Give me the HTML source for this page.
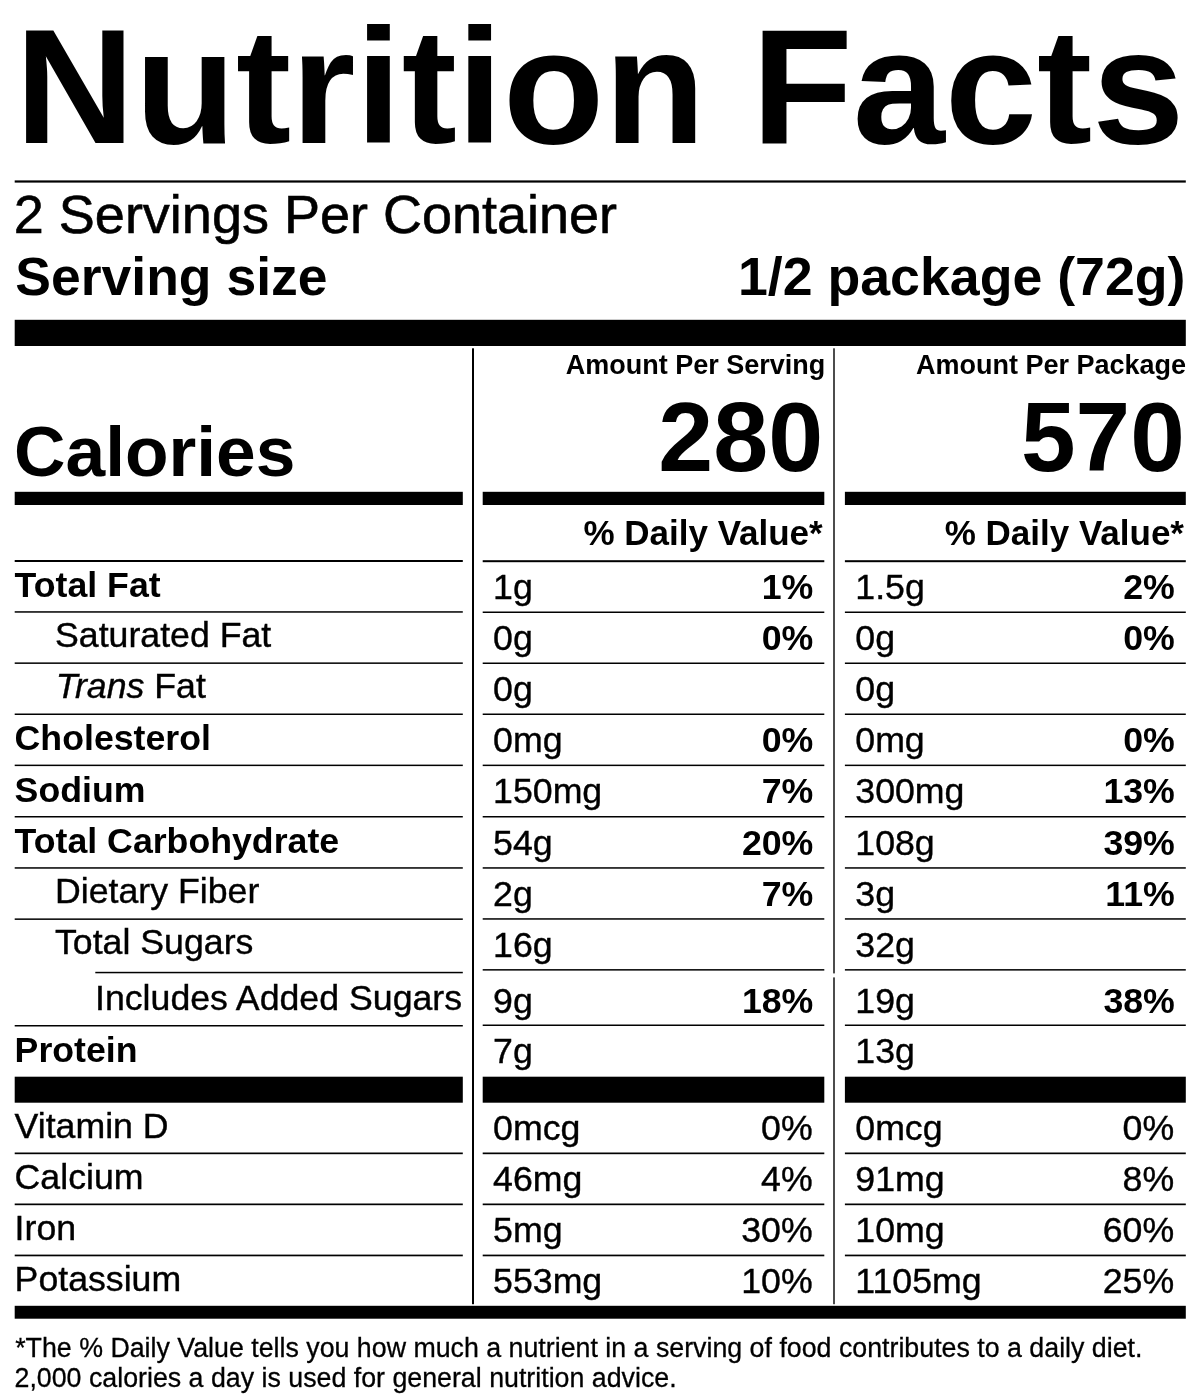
<!DOCTYPE html>
<html lang="en">
<head>
<meta charset="utf-8">
<title>Nutrition Facts</title>
<style>
html,body{margin:0;padding:0;background:#fff;}
body{width:1200px;height:1400px;position:relative;overflow:hidden;
  font-family:"Liberation Sans",Arial,Helvetica,sans-serif;color:#000;}
.label{position:absolute;left:0;top:0;width:1200px;height:1400px;will-change:transform;}
.rules{position:absolute;left:0;top:0;width:1200px;height:1400px;}
.rules rect{fill:#000;}
.t{position:absolute;white-space:nowrap;line-height:1;-webkit-text-stroke:0.011em #000;}
.t::before{content:"";display:inline-block;width:0;height:200px;}
.b{font-weight:bold;-webkit-text-stroke:0;}
.tr{margin-left:0.8px;}
.title{transform:scaleX(1.0168);transform-origin:0 0;}
</style>
</head>
<body>
<main class="label">
<svg class="rules" width="1200" height="1400" viewBox="0 0 1200 1400" aria-hidden="true">
<rect x="14.7" y="180.4" width="1171.1" height="2.2"/>
<rect x="14.7" y="319.8" width="1171.1" height="26.2"/>
<rect x="472.0" y="348.3" width="2.0" height="955.9"/>
<rect x="833.3" y="348.3" width="1.4" height="625.1"/>
<rect x="833.3" y="977.4" width="1.4" height="326.8"/>
<rect x="14.7" y="491.8" width="448.1" height="13.2"/>
<rect x="482.7" y="491.8" width="341.6" height="13.2"/>
<rect x="844.9" y="491.8" width="340.9" height="13.2"/>
<rect x="14.7" y="560.0" width="448.1" height="2.0"/>
<rect x="482.7" y="560.2" width="341.6" height="2.0"/>
<rect x="844.9" y="560.2" width="340.9" height="2.0"/>
<rect x="14.7" y="611.2" width="448.1" height="1.5"/>
<rect x="482.7" y="611.5" width="341.6" height="1.5"/>
<rect x="844.9" y="611.5" width="340.9" height="1.5"/>
<rect x="14.7" y="662.4" width="448.1" height="1.5"/>
<rect x="482.7" y="662.5" width="341.6" height="1.5"/>
<rect x="844.9" y="662.5" width="340.9" height="1.5"/>
<rect x="14.7" y="713.5" width="448.1" height="1.5"/>
<rect x="482.7" y="713.5" width="341.6" height="1.5"/>
<rect x="844.9" y="713.5" width="340.9" height="1.5"/>
<rect x="14.7" y="764.6" width="448.1" height="1.5"/>
<rect x="482.7" y="764.6" width="341.6" height="1.5"/>
<rect x="844.9" y="764.6" width="340.9" height="1.5"/>
<rect x="14.7" y="816.0" width="448.1" height="1.5"/>
<rect x="482.7" y="816.0" width="341.6" height="1.5"/>
<rect x="844.9" y="816.0" width="340.9" height="1.5"/>
<rect x="14.7" y="867.2" width="448.1" height="1.5"/>
<rect x="482.7" y="867.2" width="341.6" height="1.5"/>
<rect x="844.9" y="867.2" width="340.9" height="1.5"/>
<rect x="14.7" y="918.4" width="448.1" height="1.5"/>
<rect x="482.7" y="918.2" width="341.6" height="1.5"/>
<rect x="844.9" y="918.2" width="340.9" height="1.5"/>
<rect x="95.3" y="971.8" width="367.5" height="1.5"/>
<rect x="482.7" y="969.1" width="341.6" height="1.5"/>
<rect x="844.9" y="969.1" width="340.9" height="1.5"/>
<rect x="14.7" y="1025.0" width="448.1" height="1.5"/>
<rect x="482.7" y="1024.5" width="341.6" height="1.5"/>
<rect x="844.9" y="1024.5" width="340.9" height="1.5"/>
<rect x="14.7" y="1076.7" width="448.1" height="26.0"/>
<rect x="482.7" y="1076.7" width="341.6" height="26.0"/>
<rect x="844.9" y="1076.7" width="340.9" height="26.0"/>
<rect x="14.7" y="1152.5" width="448.1" height="1.7"/>
<rect x="482.7" y="1152.5" width="341.6" height="1.7"/>
<rect x="844.9" y="1152.5" width="340.9" height="1.7"/>
<rect x="14.7" y="1203.5" width="448.1" height="1.7"/>
<rect x="482.7" y="1203.5" width="341.6" height="1.7"/>
<rect x="844.9" y="1203.5" width="340.9" height="1.7"/>
<rect x="14.7" y="1254.6" width="448.1" height="1.7"/>
<rect x="482.7" y="1254.6" width="341.6" height="1.7"/>
<rect x="844.9" y="1254.6" width="340.9" height="1.7"/>
<rect x="14.7" y="1305.8" width="1171.1" height="12.9"/>
</svg>
<div class="t b title" style="top:-57.0px;font-size:163px;left:15.1px;">Nutrition Facts</div>
<div class="t" style="top:32.8px;font-size:54px;left:13.8px;">2 Servings Per Container</div>
<div class="t b" style="top:94.7px;font-size:53.5px;left:15.3px;">Serving size</div>
<div class="t b" style="top:94.7px;font-size:53.7px;right:14.5px;">1/2 package (72g)</div>
<div class="t b" style="top:173.7px;font-size:27px;right:374.8px;">Amount Per Serving</div>
<div class="t b" style="top:173.7px;font-size:27px;right:14.0px;">Amount Per Package</div>
<div class="t b" style="top:275.5px;font-size:71.3px;left:14.0px;">Calories</div>
<div class="t b" style="top:271.2px;font-size:98.8px;right:376.8px;">280</div>
<div class="t b" style="top:271.2px;font-size:98.2px;right:15.2px;">570</div>
<div class="t b" style="top:345.3px;font-size:35px;right:377.3px;">% Daily Value*</div>
<div class="t b" style="top:345.3px;font-size:35px;right:16.0px;">% Daily Value*</div>
<div class="t b" style="top:397.2px;font-size:35.7px;left:14.6px;">Total Fat</div>
<div class="t" style="top:398.7px;font-size:35.7px;left:493.1px;">1g</div>
<div class="t" style="top:398.7px;font-size:35.7px;left:855.3px;">1.5g</div>
<div class="t b" style="top:398.7px;font-size:35.7px;right:386.7px;">1%</div>
<div class="t b" style="top:398.7px;font-size:35.7px;right:25.2px;">2%</div>
<div class="t" style="top:447.3px;font-size:35.7px;left:55.0px;">Saturated Fat</div>
<div class="t" style="top:450.0px;font-size:35.7px;left:493.1px;">0g</div>
<div class="t" style="top:450.0px;font-size:35.7px;left:855.3px;">0g</div>
<div class="t b" style="top:450.0px;font-size:35.7px;right:386.7px;">0%</div>
<div class="t b" style="top:450.0px;font-size:35.7px;right:25.2px;">0%</div>
<div class="t" style="top:498.4px;font-size:35.7px;left:55.0px;"><i class="tr">Trans</i> Fat</div>
<div class="t" style="top:501.2px;font-size:35.7px;left:493.1px;">0g</div>
<div class="t" style="top:501.2px;font-size:35.7px;left:855.3px;">0g</div>
<div class="t b" style="top:550.4px;font-size:35.7px;left:14.6px;">Cholesterol</div>
<div class="t" style="top:552.3px;font-size:35.7px;left:493.1px;">0mg</div>
<div class="t" style="top:552.3px;font-size:35.7px;left:855.3px;">0mg</div>
<div class="t b" style="top:552.3px;font-size:35.7px;right:386.7px;">0%</div>
<div class="t b" style="top:552.3px;font-size:35.7px;right:25.2px;">0%</div>
<div class="t b" style="top:601.5px;font-size:35.7px;left:14.6px;">Sodium</div>
<div class="t" style="top:603.4px;font-size:35.7px;left:493.1px;">150mg</div>
<div class="t" style="top:603.4px;font-size:35.7px;left:855.3px;">300mg</div>
<div class="t b" style="top:603.4px;font-size:35.7px;right:386.7px;">7%</div>
<div class="t b" style="top:603.4px;font-size:35.7px;right:25.2px;">13%</div>
<div class="t b" style="top:652.6px;font-size:35.7px;left:14.6px;">Total Carbohydrate</div>
<div class="t" style="top:654.5px;font-size:35.7px;left:493.1px;">54g</div>
<div class="t" style="top:654.5px;font-size:35.7px;left:855.3px;">108g</div>
<div class="t b" style="top:654.5px;font-size:35.7px;right:386.7px;">20%</div>
<div class="t b" style="top:654.5px;font-size:35.7px;right:25.2px;">39%</div>
<div class="t" style="top:703.0px;font-size:35.7px;left:55.0px;">Dietary Fiber</div>
<div class="t" style="top:705.6px;font-size:35.7px;left:493.1px;">2g</div>
<div class="t" style="top:705.6px;font-size:35.7px;left:855.3px;">3g</div>
<div class="t b" style="top:705.6px;font-size:35.7px;right:386.7px;">7%</div>
<div class="t b" style="top:705.6px;font-size:35.7px;right:25.2px;">11%</div>
<div class="t" style="top:753.8px;font-size:35.7px;left:55.0px;">Total Sugars</div>
<div class="t" style="top:756.5px;font-size:35.7px;left:493.1px;">16g</div>
<div class="t" style="top:756.5px;font-size:35.7px;left:855.3px;">32g</div>
<div class="t" style="top:809.7px;font-size:35.7px;left:95.0px;">Includes Added Sugars</div>
<div class="t" style="top:812.5px;font-size:35.7px;left:493.1px;">9g</div>
<div class="t" style="top:812.5px;font-size:35.7px;left:855.3px;">19g</div>
<div class="t b" style="top:812.5px;font-size:35.7px;right:386.7px;">18%</div>
<div class="t b" style="top:812.5px;font-size:35.7px;right:25.2px;">38%</div>
<div class="t b" style="top:862.0px;font-size:35.7px;left:14.6px;">Protein</div>
<div class="t" style="top:863.1px;font-size:35.7px;left:493.1px;">7g</div>
<div class="t" style="top:863.1px;font-size:35.7px;left:855.3px;">13g</div>
<div class="t" style="top:937.5px;font-size:35.7px;left:14.6px;">Vitamin D</div>
<div class="t" style="top:939.5px;font-size:35.7px;left:493.1px;">0mcg</div>
<div class="t" style="top:939.5px;font-size:35.7px;left:855.3px;">0mcg</div>
<div class="t" style="top:939.5px;font-size:35.7px;right:387.3px;">0%</div>
<div class="t" style="top:939.5px;font-size:35.7px;right:25.8px;">0%</div>
<div class="t" style="top:988.7px;font-size:35.7px;left:14.6px;">Calcium</div>
<div class="t" style="top:990.8px;font-size:35.7px;left:493.1px;">46mg</div>
<div class="t" style="top:990.8px;font-size:35.7px;left:855.3px;">91mg</div>
<div class="t" style="top:990.8px;font-size:35.7px;right:387.3px;">4%</div>
<div class="t" style="top:990.8px;font-size:35.7px;right:25.8px;">8%</div>
<div class="t" style="top:1039.8px;font-size:35.7px;left:14.6px;">Iron</div>
<div class="t" style="top:1042.0px;font-size:35.7px;left:493.1px;">5mg</div>
<div class="t" style="top:1042.0px;font-size:35.7px;left:855.3px;">10mg</div>
<div class="t" style="top:1042.0px;font-size:35.7px;right:387.3px;">30%</div>
<div class="t" style="top:1042.0px;font-size:35.7px;right:25.8px;">60%</div>
<div class="t" style="top:1090.8px;font-size:35.7px;left:14.6px;">Potassium</div>
<div class="t" style="top:1093.0px;font-size:35.7px;left:493.1px;">553mg</div>
<div class="t" style="top:1093.0px;font-size:35.7px;left:855.3px;">1105mg</div>
<div class="t" style="top:1093.0px;font-size:35.7px;right:387.3px;">10%</div>
<div class="t" style="top:1093.0px;font-size:35.7px;right:25.8px;">25%</div>
<div class="t" style="top:1156.5px;font-size:26.77px;left:15.2px;">*The % Daily Value tells you how much a nutrient in a serving of food contributes to a daily diet.</div>
<div class="t" style="top:1187.0px;font-size:26.77px;left:14.5px;">2,000 calories a day is used for general nutrition advice.</div>
</main>
</body>
</html>
